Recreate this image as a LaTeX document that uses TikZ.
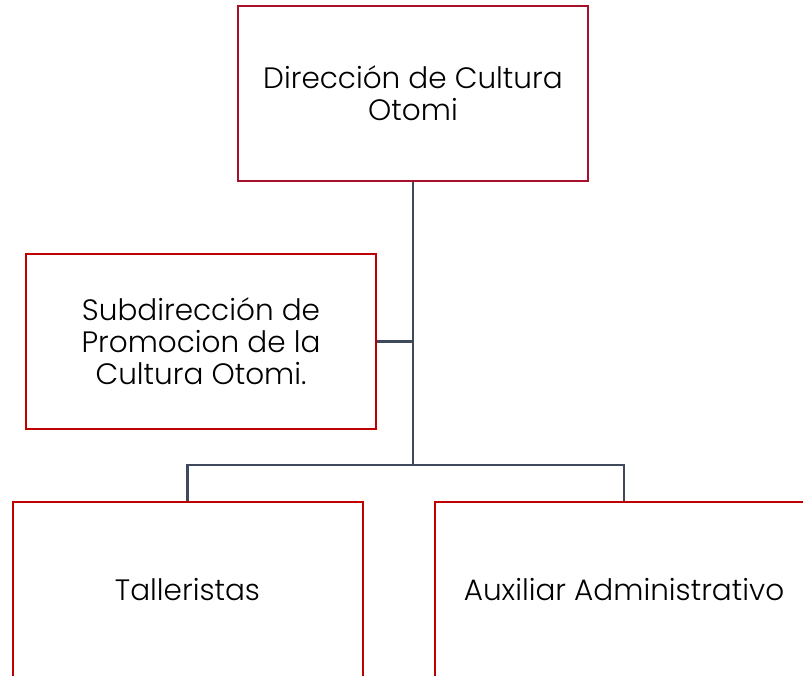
\documentclass[tikz,border=0pt]{standalone}
\usepackage{fontspec}
\setmainfont{Poppins}[UprightFont=* Light]
\usetikzlibrary{positioning}
\definecolor{crimsonline}{HTML}{A8102C}
\definecolor{redline}{HTML}{C00000}
\definecolor{slateline}{HTML}{3E4A5C}
\tikzset{
  box/.style    ={draw=redline, line width=2pt, fill=white, align=center,
                  minimum width=350pt, minimum height=175pt,
                  font=\fontsize{29.5}{32}\selectfont},
  boxtop/.style ={box, draw=crimsonline},
  link/.style   ={draw=slateline, line width=2.5pt},
}

\begin{document}
\begin{tikzpicture}[x=1pt, y=-1pt]
  \useasboundingbox (0,0) rectangle (803,676);
  \clip (0,0) rectangle (803,676);

  \node[boxtop](top) at (413,93.5){Dirección de Cultura\\ Otomi};
  \node[box](sub) at (201,341.5){Subdirección de\\ Promocion de la\\ Cultura Otomi.};

  % lower level
  \node[box](tal) at (187.5,589.5){Talleristas};
  \node[box, minimum width=378pt](aux) at (624,589.5){Auxiliar Administrativo};

  \coordinate (bar) at (413,465);
  \draw[link](top.south) -- (bar);
  \draw[link](sub.east) -- (sub.east -| top.south);
  \draw[link](bar) -| (tal.north);
  \draw[link](bar) -| (aux.north);
\end{tikzpicture}
\end{document}
